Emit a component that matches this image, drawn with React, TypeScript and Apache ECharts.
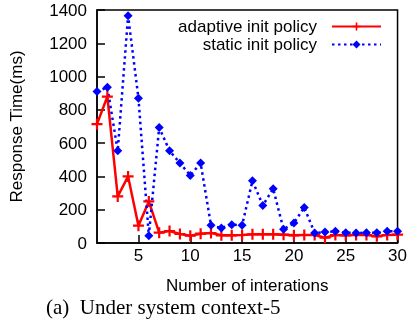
import React, { useEffect, useRef } from "react";
import * as echarts from "echarts";

const iterations = Array.from({ length: 30 }, (_, i) => i + 1);
const adaptiveValues = [714, 880, 280, 400, 104, 250, 62, 72, 54, 44, 56, 60, 46, 46, 48, 52, 52, 52, 50, 46, 48, 48, 32, 48, 46, 48, 48, 40, 48, 50];
const staticValues = [910, 936, 554, 1366, 870, 44, 694, 554, 480, 406, 480, 106, 90, 110, 106, 374, 226, 326, 82, 120, 214, 60, 66, 70, 62, 60, 62, 62, 70, 70];
const xTicks = [5, 10, 15, 20, 25, 30];
const seriesNames = ["adaptive init policy", "static init policy"];
const xName = "Number of interations";
const yName = "Response Time(ms)";
const caption = "(a)  Under system context-5";

const PLUS = "path://M4,0H6V4H10V6H6V10H4V6H0V4H4Z";
const SANS = "Liberation Sans, Arial, Helvetica, sans-serif";

export default function App() {
  const ref = useRef<HTMLDivElement>(null);
  useEffect(() => {
    const chart = echarts.init(ref.current!, undefined, { renderer: "svg" });
    chart.setOption({
      animation: false,
      grid: {
        left: 97,
        top: 10,
        right: 9,
        bottom: 78,
        show: true,
        borderColor: "#000",
        borderWidth: 1.5,
        backgroundColor: "transparent",
      },
      legend: {
        orient: "vertical",
        right: 23,
        top: 13,
        align: "right",
        itemWidth: 49,
        itemHeight: 10,
        itemGap: 1,
        textStyle: { fontFamily: SANS, fontSize: 17, color: "#000", lineHeight: 16, padding: [0, 10, 0, 0] },
        data: seriesNames,
      },
      xAxis: {
        type: "value",
        min: 1,
        max: 30,
        name: xName,
        nameLocation: "middle",
        nameGap: 34,
        nameTextStyle: { fontFamily: SANS, fontSize: 17, color: "#000" },
        axisLine: { show: true, lineStyle: { color: "#000", width: 1.5 } },
        axisTick: { show: true, inside: true, length: 8, customValues: xTicks, lineStyle: { color: "#000", width: 1.5 } },
        axisLabel: { customValues: xTicks, fontFamily: SANS, fontSize: 17, color: "#000", margin: 4 },
        splitLine: { show: false },
      },
      yAxis: {
        type: "value",
        min: 0,
        max: 1400,
        interval: 200,
        name: yName,
        nameLocation: "middle",
        nameGap: 72,
        nameTextStyle: { fontFamily: SANS, fontSize: 17, color: "#000" },
        axisLine: { show: true, lineStyle: { color: "#000", width: 1.5 } },
        axisTick: { show: true, inside: true, length: 8, lineStyle: { color: "#000", width: 1.5 } },
        axisLabel: { fontFamily: SANS, fontSize: 17, color: "#000", margin: 10, formatter: (v: number) => String(v) },
        splitLine: { show: false },
      },
      series: [
        {
          name: seriesNames[0],
          type: "line",
          data: iterations.map((x, i) => [x, adaptiveValues[i]]),
          symbol: PLUS,
          symbolSize: 11,
          showAllSymbol: true,
          itemStyle: { color: "#ff0000" },
          lineStyle: { color: "#ff0000", width: 2.5 },
        },
        {
          name: seriesNames[1],
          type: "line",
          data: iterations.map((x, i) => [x, staticValues[i]]),
          symbol: "diamond",
          symbolSize: 9,
          showAllSymbol: true,
          itemStyle: { color: "#0000ff" },
          lineStyle: { color: "#0000ff", width: 2.5, type: [2.5, 3.5] },
        },
      ],
      graphic: [
        {
          type: "text",
          left: 46,
          top: 296,
          style: { text: caption, font: "21px 'Liberation Serif', 'Times New Roman', serif", fill: "#000" },
        },
      ],
    });
    return () => chart.dispose();
  }, []);
  return <div ref={ref} style={{ position: "fixed", left: 0, top: 0, width: 410, height: 321 }} />;
}
